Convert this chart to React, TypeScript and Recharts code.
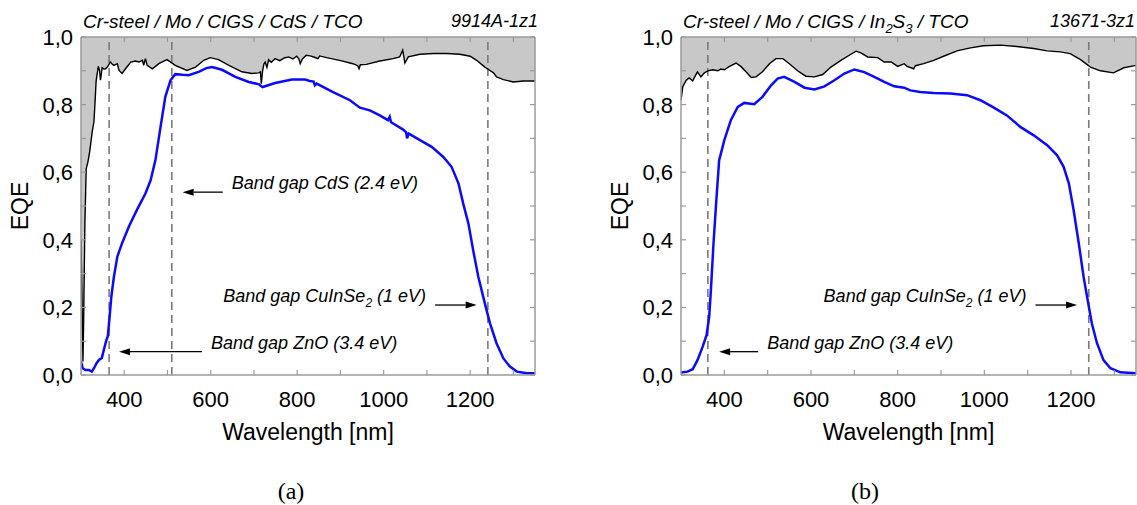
import React from 'react';
import { ComposedChart, Line, Area, XAxis, YAxis, ReferenceLine } from 'recharts';

// ---------------- data ----------------
const X_TICKS = [400, 500, 600, 700, 800, 900, 1000, 1100, 1200, 1300];
const X_LABEL_STEP = 200;
const Y_TICKS = [0, 0.1, 0.2, 0.3, 0.4, 0.5, 0.6, 0.7, 0.8, 0.9, 1.0];
const X_DOMAIN = [300, 1350];

// Panel (a): Cr-steel / Mo / CIGS / CdS / TCO
const A_BLUE_WL = [300, 304, 310, 318, 325, 330, 336, 342, 348, 353, 358, 362, 366, 370, 376, 384, 395, 411, 430, 449, 461, 472, 484, 495, 507, 518, 535, 549, 572, 590, 603, 626, 657, 688, 712, 716, 720, 749, 788, 818, 829, 838, 841, 845, 883, 922, 945, 968, 991, 1010, 1014, 1017, 1022, 1045, 1052, 1054, 1058, 1084, 1111, 1138, 1157, 1173, 1184, 1196, 1207, 1219, 1234, 1246, 1261, 1277, 1292, 1308, 1331, 1350];
const A_BLUE_EQE = [0.04, 0.02, 0.015, 0.015, 0.01, 0.02, 0.035, 0.045, 0.05, 0.075, 0.1, 0.115, 0.17, 0.23, 0.29, 0.35, 0.39, 0.44, 0.49, 0.537, 0.576, 0.635, 0.734, 0.823, 0.872, 0.89, 0.888, 0.887, 0.897, 0.908, 0.911, 0.903, 0.882, 0.867, 0.86, 0.855, 0.852, 0.864, 0.874, 0.874, 0.87, 0.868, 0.857, 0.862, 0.837, 0.813, 0.791, 0.783, 0.768, 0.754, 0.764, 0.748, 0.744, 0.726, 0.718, 0.7, 0.714, 0.695, 0.675, 0.645, 0.616, 0.567, 0.507, 0.448, 0.369, 0.29, 0.212, 0.153, 0.094, 0.049, 0.025, 0.01, 0.005, 0.005];
const A_BLACK_WL = [300, 302, 304.5, 306, 309, 312, 316, 320, 326, 330, 333, 335, 340, 343, 345, 349, 353, 357, 362, 368, 372, 376, 384, 388, 395, 403, 415, 426, 434, 442, 445, 449, 453, 465, 480, 499, 518, 545, 565, 584, 599, 618, 642, 672, 695, 711, 715, 717, 720, 723, 726, 730, 734, 740, 749, 760, 770, 780, 790, 799, 804, 807, 812, 821, 830, 840, 848, 852, 868, 898, 929, 940, 943, 946, 960, 991, 1022, 1037, 1044, 1049, 1057, 1084, 1115, 1146, 1176, 1200, 1215, 1234, 1246, 1254, 1261, 1277, 1300, 1323, 1350];
const A_BLACK_EQE = [0.4, 0.25, 0.04, 0.15, 0.45, 0.61, 0.63, 0.66, 0.72, 0.75, 0.82, 0.87, 0.913, 0.9, 0.872, 0.909, 0.905, 0.906, 0.913, 0.926, 0.92, 0.916, 0.921, 0.901, 0.892, 0.906, 0.926, 0.929, 0.926, 0.931, 0.916, 0.936, 0.916, 0.906, 0.921, 0.933, 0.916, 0.901, 0.911, 0.931, 0.939, 0.933, 0.916, 0.897, 0.892, 0.894, 0.897, 0.862, 0.9, 0.92, 0.926, 0.91, 0.933, 0.925, 0.936, 0.93, 0.938, 0.941, 0.935, 0.943, 0.935, 0.921, 0.935, 0.946, 0.944, 0.94, 0.936, 0.944, 0.939, 0.931, 0.921, 0.915, 0.906, 0.918, 0.919, 0.929, 0.936, 0.941, 0.961, 0.923, 0.941, 0.949, 0.951, 0.951, 0.949, 0.943, 0.931, 0.911, 0.901, 0.894, 0.882, 0.874, 0.867, 0.87, 0.87];
const A_GAP_WL = [365, 510, 1241];
const A_ARROW_TAIL = [628, 1119, 580];
const A_ARROW_HEAD = [535, 1215, 388];
const A_ARROW_EQE = [0.541, 0.207, 0.069];
const A_ARROW_TEXT = [['Band gap CdS (2.4 eV)'], ['Band gap CuInSe', '_2', ' (1 eV)'], ['Band gap ZnO (3.4 eV)']];
const A_TITLE = ['Cr-steel / Mo / CIGS / CdS / TCO'];
const A_SAMPLE = '9914A-1z1';

// Panel (b): Cr-steel / Mo / CIGS / In2S3 / TCO
const B_BLUE_WL = [300, 315, 327, 338, 350, 359, 365, 369, 375, 381, 388, 400, 415, 431, 446, 469, 488, 508, 523, 538, 562, 585, 608, 631, 654, 677, 700, 723, 746, 769, 792, 815, 829, 852, 883, 922, 960, 991, 1022, 1052, 1083, 1114, 1145, 1168, 1183, 1195, 1206, 1218, 1229, 1237, 1248, 1260, 1275, 1291, 1314, 1350];
const B_BLUE_EQE = [0.007, 0.01, 0.017, 0.044, 0.084, 0.118, 0.172, 0.251, 0.389, 0.507, 0.635, 0.695, 0.754, 0.793, 0.805, 0.801, 0.823, 0.857, 0.877, 0.882, 0.867, 0.85, 0.845, 0.854, 0.872, 0.892, 0.904, 0.896, 0.882, 0.867, 0.854, 0.85, 0.842, 0.837, 0.834, 0.833, 0.828, 0.813, 0.791, 0.768, 0.734, 0.709, 0.68, 0.65, 0.616, 0.567, 0.488, 0.389, 0.291, 0.232, 0.153, 0.094, 0.044, 0.02, 0.008, 0.005];
const B_BLACK_WL = [300, 304, 312, 319, 327, 333, 338, 346, 354, 362, 373, 385, 392, 400, 412, 427, 438, 450, 462, 473, 488, 504, 519, 535, 550, 569, 588, 608, 627, 646, 669, 692, 704, 715, 731, 754, 769, 785, 800, 815, 822, 837, 841, 860, 883, 906, 937, 968, 998, 1037, 1075, 1114, 1145, 1175, 1198, 1222, 1245, 1268, 1298, 1322, 1350];
const B_BLACK_EQE = [0.813, 0.852, 0.872, 0.879, 0.87, 0.885, 0.897, 0.882, 0.894, 0.9, 0.903, 0.9, 0.905, 0.903, 0.913, 0.923, 0.913, 0.897, 0.88, 0.882, 0.897, 0.921, 0.936, 0.936, 0.921, 0.9, 0.884, 0.882, 0.889, 0.911, 0.931, 0.949, 0.958, 0.953, 0.941, 0.939, 0.926, 0.926, 0.913, 0.921, 0.913, 0.906, 0.915, 0.921, 0.931, 0.943, 0.959, 0.968, 0.974, 0.976, 0.972, 0.966, 0.959, 0.956, 0.951, 0.933, 0.911, 0.9, 0.894, 0.909, 0.916];
const B_GAP_WL = [362, 1241];
const B_ARROW_TAIL = [478, 1118];
const B_ARROW_HEAD = [388, 1214];
const B_ARROW_EQE = [0.069, 0.207];
const B_ARROW_TEXT = [['Band gap ZnO (3.4 eV)'], ['Band gap CuInSe', '_2', ' (1 eV)']];
const B_TITLE = ['Cr-steel / Mo / CIGS / In', '_2', 'S', '_3', ' / TCO'];
const B_SAMPLE = '13671-3z1';

// ---------------- styling ----------------
const FONT = '"Liberation Sans", Arial, Helvetica, sans-serif';
const FRAME = '#9a9a9a';
const BLUE = '#0a0aff';
const FILL = '#c8c8c8';
const DASH = '#7a7a7a';
const AXIS_LINE = { stroke: FRAME, strokeWidth: 1.5 };
const TICK_LINE = { stroke: FRAME, strokeWidth: 1.2 };

const zip = (wl: number[], v: number[]) => wl.map((w, i) => ({ wl: w, eqe: v[i] }));

function renderParts(parts: string[], subSize: number) {
  const out: any[] = [];
  let shifted = false;
  parts.forEach((p, i) => {
    if (p.startsWith('_')) {
      out.push(<tspan key={i} fontSize={subSize} dy={5}>{p.slice(1)}</tspan>);
      shifted = true;
    } else {
      out.push(<tspan key={i} dy={shifted ? -5 : 0}>{p}</tspan>);
      shifted = false;
    }
  });
  return out;
}

const Blank = () => <g />;

const XTick = (props: any) => {
  const { x, y, payload } = props;
  if (Math.round(payload.value) % X_LABEL_STEP !== 0) return <g />;
  return (
    <text x={x} y={y + 37} textAnchor="middle" fontFamily={FONT} fontSize={22} fill="#000">
      {payload.value}
    </text>
  );
};

const YTick = (props: any) => {
  const { x, y, payload } = props;
  const v = payload.value;
  if (Math.round(v * 10) % 2 !== 0) return <g />;
  return (
    <text x={x - 13} y={y} dy="0.36em" textAnchor="end" fontFamily={FONT} fontSize={22} fill="#000">
      {v.toFixed(1).replace('.', ',')}
    </text>
  );
};

function Arrow(props: any) {
  const { x1, y1, x2, y2, parts } = props;
  if (x1 == null || x2 == null) return null;
  const dir = x2 > x1 ? 1 : -1;
  const hl = 11;
  const hw = 3.5;
  const bx = x2 - dir * hl;
  const tx = dir < 0 ? x1 + 9 : x1 - 9;
  return (
    <g>
      <line x1={x1} y1={y1} x2={bx} y2={y2} stroke="#000" strokeWidth={1.3} />
      <polygon points={`${x2},${y2} ${bx},${y2 - hw} ${bx},${y2 + hw}`} fill="#000" />
      <text x={tx} y={y1 - 3} dy="0.36em" textAnchor={dir < 0 ? 'start' : 'end'} fontFamily={FONT} fontStyle="italic" fontSize={18} fill="#000">
        {renderParts(parts, 12)}
      </text>
    </g>
  );
}

function Panel(p: any) {
  const blue = zip(p.blueWl, p.blueEqe);
  const black = zip(p.blackWl, p.blackEqe);
  const arrows = p.arrowTail.map((t: number, i: number) => ({ tail: t, head: p.arrowHead[i], eqe: p.arrowEqe[i], parts: p.arrowText[i] }));

  const xLabel = (lp: any) => {
    const vb = lp.viewBox || lp;
    return (
      <text x={vb.x + vb.width / 2} y={vb.y + 57} dy="0.36em" textAnchor="middle" fontFamily={FONT} fontSize={23} fill="#000">
        Wavelength [nm]
      </text>
    );
  };
  // left axis label: EQE plus the stack title above the plot
  const yLabel = (lp: any) => {
    const vb = lp.viewBox || lp;
    const plotLeft = vb.x + vb.width;
    const cx = plotLeft - 61.5;
    const cy = vb.y + vb.height / 2;
    return (
      <g>
        <text x={cx} y={cy} dy="0.36em" textAnchor="middle" transform={`rotate(-90, ${cx}, ${cy})`} fontFamily={FONT} fontSize={23} fill="#000">
          EQE
        </text>
        <text x={plotLeft + 2} y={vb.y - 9} fontFamily={FONT} fontStyle="italic" fontSize={19} fill="#000">
          {renderParts(p.title, 13)}
        </text>
      </g>
    );
  };
  // right axis label: sample id
  const rLabel = (lp: any) => {
    const vb = lp.viewBox || lp;
    return (
      <text x={vb.x + p.sampleDx} y={vb.y - 10} textAnchor="end" fontFamily={FONT} fontStyle="italic" fontSize={18} fill="#000">
        {p.sample}
      </text>
    );
  };

  return (
    <div style={{ position: 'absolute', left: p.left, top: 0 }}>
      <ComposedChart width={p.width} height={460} margin={{ top: 36, right: p.rightMargin, bottom: 20, left: 0 }}>
        <XAxis xAxisId="b" type="number" dataKey="wl" domain={X_DOMAIN} ticks={X_TICKS} interval={0} allowDataOverflow height={65} tickSize={-5} tickMargin={0} axisLine={AXIS_LINE} tickLine={TICK_LINE} tick={XTick} label={xLabel} />
        <XAxis xAxisId="t" orientation="top" type="number" dataKey="wl" domain={X_DOMAIN} ticks={X_TICKS} interval={0} allowDataOverflow height={1} tickSize={-5} tickMargin={0} axisLine={AXIS_LINE} tickLine={TICK_LINE} tick={Blank} />
        <YAxis yAxisId="l" type="number" domain={[0, 1]} ticks={Y_TICKS} interval={0} allowDataOverflow width={p.yAxisW} tickSize={-5} tickMargin={0} axisLine={AXIS_LINE} tickLine={TICK_LINE} tick={YTick} label={yLabel} />
        <YAxis yAxisId="r" orientation="right" type="number" domain={[0, 1]} ticks={Y_TICKS} interval={0} allowDataOverflow width={1} tickSize={-5} tickMargin={0} axisLine={AXIS_LINE} tickLine={TICK_LINE} tick={Blank} label={rLabel} />
        <Area xAxisId="b" yAxisId="l" data={black} dataKey={(d: any) => [d.eqe, 1]} type="linear" stroke="none" fill={FILL} fillOpacity={1} isAnimationActive={false} />
        {p.gaps.map((g: number) => (
          <ReferenceLine key={'g' + g} xAxisId="b" yAxisId="l" x={g} stroke={DASH} strokeWidth={1.6} strokeDasharray="8 5" />
        ))}
        <Line xAxisId="b" yAxisId="l" data={black} dataKey="eqe" type="linear" stroke="#000" strokeWidth={1.4} dot={false} activeDot={false} isAnimationActive={false} />
        <Line xAxisId="b" yAxisId="l" data={blue} dataKey="eqe" type="linear" stroke={BLUE} strokeWidth={2.5} dot={false} activeDot={false} isAnimationActive={false} />
        {arrows.map((a: any, i: number) => (
          <ReferenceLine
            key={'a' + i}
            xAxisId="b"
            yAxisId="l"
            segment={[{ x: a.tail, y: a.eqe }, { x: a.head, y: a.eqe }]}
            stroke="#000"
            shape={(sp: any) => <Arrow {...sp} parts={a.parts} />}
          />
        ))}
      </ComposedChart>
    </div>
  );
}

const CAPTION_STYLE: React.CSSProperties = {
  position: 'absolute', width: 60, top: 476, textAlign: 'center',
  fontFamily: '"Liberation Serif", "Times New Roman", serif', fontSize: 24, lineHeight: '30px', color: '#000',
};

export default function App() {
  return (
    <div style={{ position: 'absolute', left: 0, top: 0, width: 1137, height: 505, background: '#fff', overflow: 'hidden' }}>
      <Panel
        left={0} width={560} rightMargin={24} yAxisW={81} sampleDx={3}
        blueWl={A_BLUE_WL} blueEqe={A_BLUE_EQE} blackWl={A_BLACK_WL} blackEqe={A_BLACK_EQE}
        gaps={A_GAP_WL} arrowTail={A_ARROW_TAIL} arrowHead={A_ARROW_HEAD} arrowEqe={A_ARROW_EQE} arrowText={A_ARROW_TEXT}
        title={A_TITLE} sample={A_SAMPLE}
      />
      <Panel
        left={600} width={537} rightMargin={0} yAxisW={81} sampleDx={-1}
        blueWl={B_BLUE_WL} blueEqe={B_BLUE_EQE} blackWl={B_BLACK_WL} blackEqe={B_BLACK_EQE}
        gaps={B_GAP_WL} arrowTail={B_ARROW_TAIL} arrowHead={B_ARROW_HEAD} arrowEqe={B_ARROW_EQE} arrowText={B_ARROW_TEXT}
        title={B_TITLE} sample={B_SAMPLE}
      />
      <div style={{ ...CAPTION_STYLE, left: 261 }}>(a)</div>
      <div style={{ ...CAPTION_STYLE, left: 835 }}>(b)</div>
    </div>
  );
}
